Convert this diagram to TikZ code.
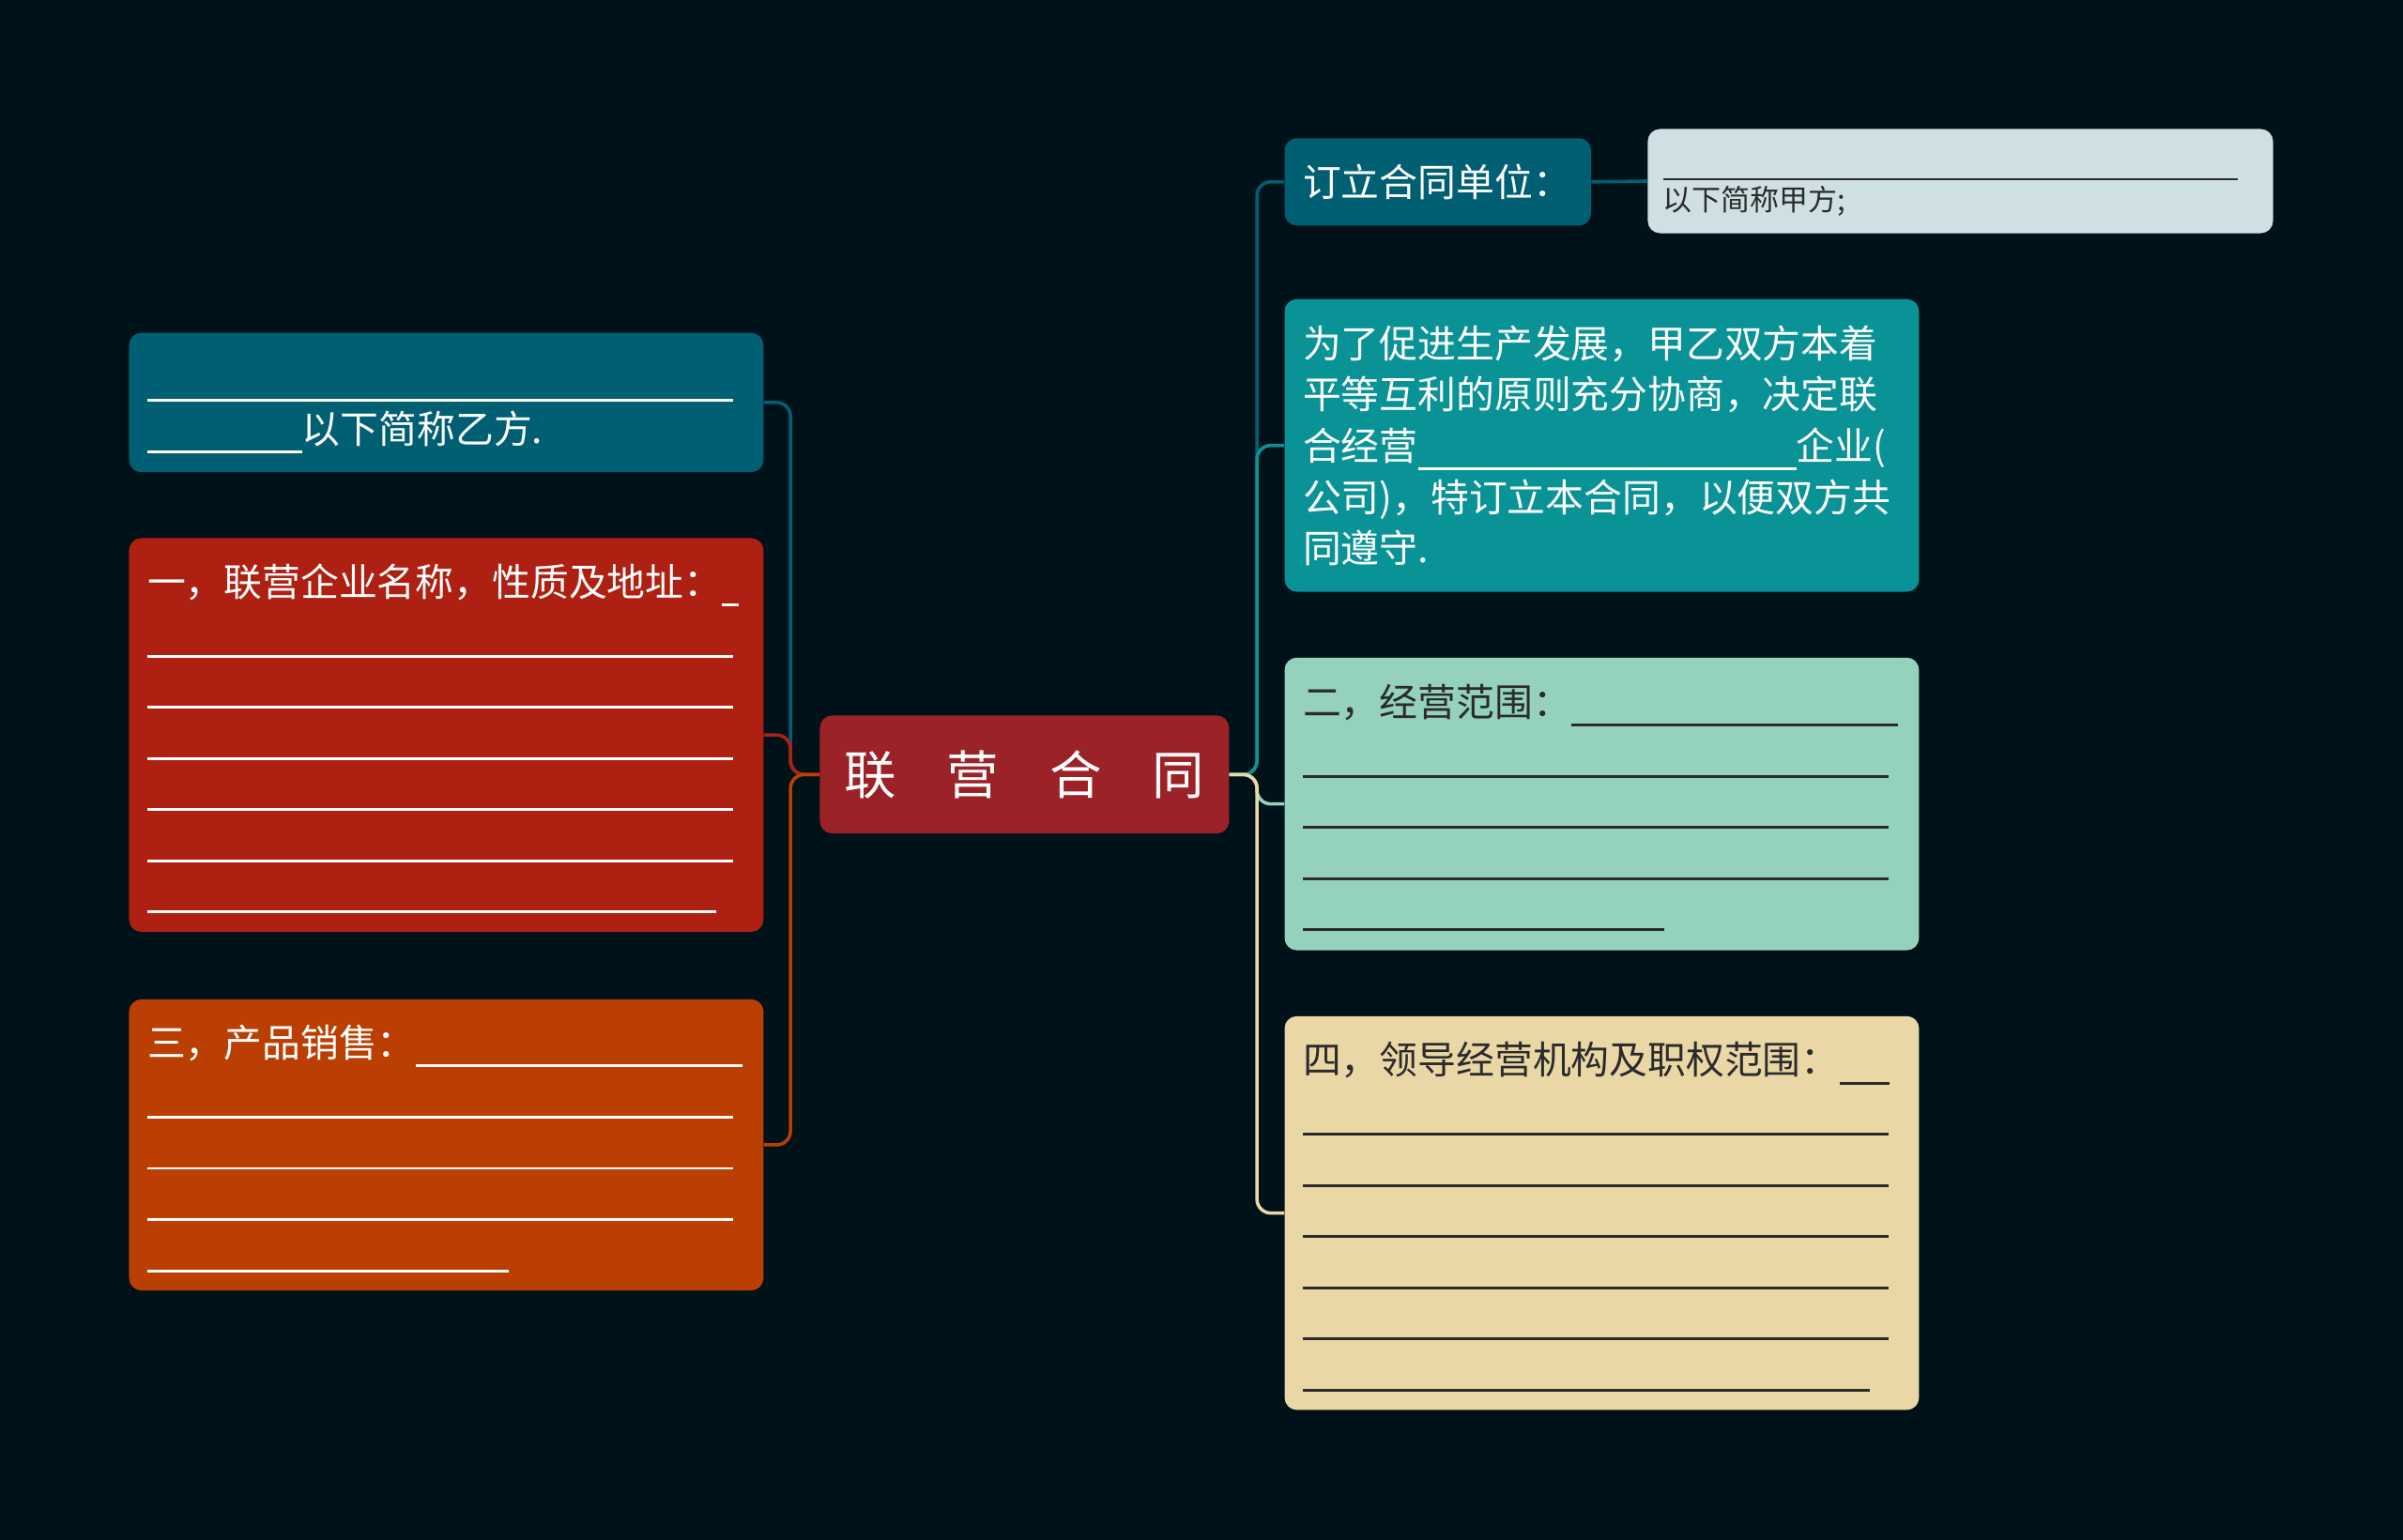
\documentclass[tikz,border=0pt]{standalone}
\usepackage{fontspec}
\setmainfont{Noto Sans CJK SC}
\usepackage{tikz}

\definecolor{bgdark}{HTML}{001219}
\definecolor{deepteal}{HTML}{005F73}
\definecolor{seateal}{HTML}{0A9396}
\definecolor{mint}{HTML}{94D2BD}
\definecolor{sand}{HTML}{E9D8A6}
\definecolor{rust}{HTML}{BB3E03}
\definecolor{brick}{HTML}{AE2012}
\definecolor{wine}{HTML}{9B2226}
\definecolor{pale}{HTML}{CEE0E4}
\definecolor{ink}{HTML}{2B2B2B}
\newcommand{\fillin}[1]{\rule[-6.5pt]{#1pt}{1.8pt}}

\begin{document}
\begin{tikzpicture}[x=1pt,y=-1pt,
  card/.style={rounded corners=8pt, anchor=north west, align=left, inner xsep=12pt, inner ysep=0pt, text width=390pt, font=\fontsize{25}{33.4}\selectfont, execute at begin node=\rule{0pt}{29.5pt}, execute at end node=\strut},
  link/.style={line width=2.2pt, rounded corners=9pt}]
\fill[bgdark] (0,0) rectangle (1568,1005);

\node[fill=wine, rounded corners=8pt, minimum width=267pt, minimum height=77pt, inner xsep=16pt, text=white, font=\fontsize{34}{40}\selectfont] (hub) at (668.5,505.5) {联\hspace{33pt}营\hspace{33pt}合\hspace{33pt}同};

\node[card, fill=deepteal, text=white, minimum height=91pt] (yifang) at (84,217) {\fillin{382}\\\fillin{101}以下简称乙方.};
\node[card, fill=brick, text=white, minimum height=257pt] (qiye) at (84,351) {一，联营企业名称，性质及地址：\fillin{11}\\\fillin{382}\\\fillin{382}\\\fillin{382}\\\fillin{382}\\\fillin{382}\\\fillin{371}};
\node[card, fill=rust, text=white, minimum height=190pt] (xiaoshou) at (84,652) {三，产品销售：\fillin{213}\\\fillin{382}\\\fillin{382}\\\fillin{382}\\\fillin{236}};

\node[card, text width=176pt, fill=deepteal, text=white, minimum height=57pt] (danwei) at (838,90) {订立合同单位：};
\node[rounded corners=8pt, anchor=north west, fill=pale, text=ink, align=left, text width=388pt, inner xsep=10pt, minimum height=68pt, font=\fontsize{19}{26}\selectfont] (jiafang) at (1075,84) {\rule{0pt}{16pt}\fillin{375}\\以下简称甲方;};
\node[card, fill=seateal, text=white, minimum height=191pt] (zongze) at (838,195) {为了促进生产发展，甲乙双方本着\\平等互利的原则充分协商，决定联\\合经营\fillin{247}企业(\\公司)，特订立本合同，以便双方共\\同遵守.};
\node[card, fill=mint, text=ink, minimum height=191pt] (fanwei) at (838,429) {二，经营范围：\fillin{213}\\\fillin{382}\\\fillin{382}\\\fillin{382}\\\fillin{236}};
\node[card, fill=sand, text=ink, minimum height=257pt] (jigou) at (838,663) {四，领导经营机构及职权范围：\fillin{33}\\\fillin{382}\\\fillin{382}\\\fillin{382}\\\fillin{382}\\\fillin{382}\\\fillin{370}};

\draw[link, deepteal] (hub.west) -- ++(-19,0) |- (yifang.east);
\draw[link, brick] (hub.west) -- ++(-19,0) |- (qiye.east);
\draw[link, rust] (hub.west) -- ++(-19,0) |- (xiaoshou.east);
\draw[link, deepteal] (hub.east) -- ++(18,0) |- (danwei.west);
\draw[link, seateal] (hub.east) -- ++(18,0) |- (zongze.west);
\draw[link, mint] (hub.east) -- ++(18,0) |- (fanwei.west);
\draw[link, sand] (hub.east) -- ++(18,0) |- (jigou.west);
\draw[link, deepteal] (danwei.east) -- (jiafang.west);
\end{tikzpicture}
\end{document}
